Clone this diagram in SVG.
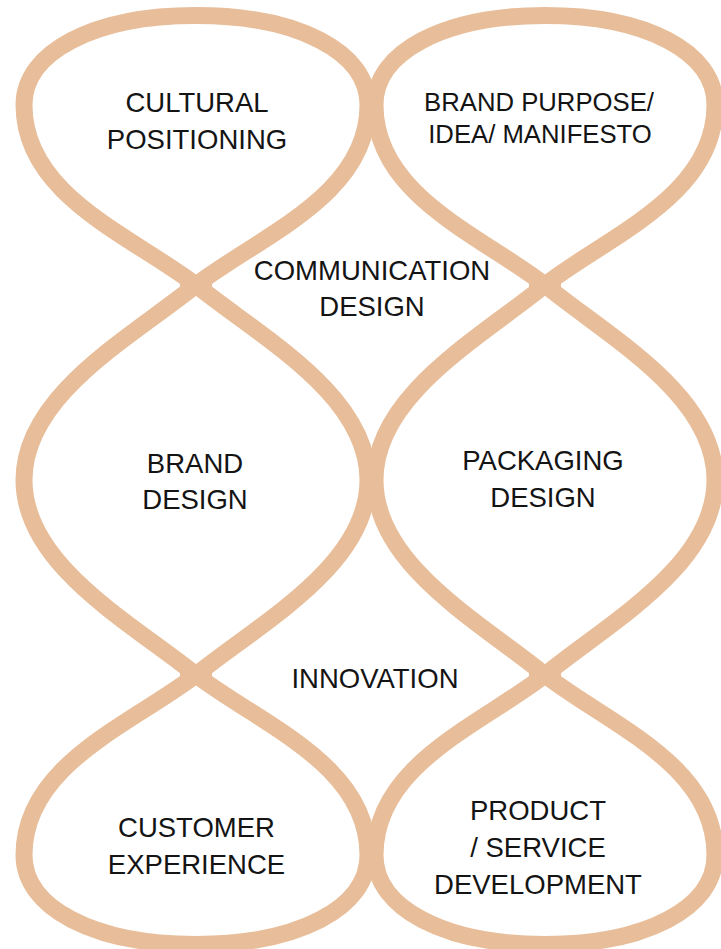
<svg xmlns="http://www.w3.org/2000/svg" width="721" height="949" viewBox="0 0 721 949">
  <style>
    .lobe { fill: none; stroke: #E8BE9A; stroke-width: 17; stroke-linejoin: round; }
    .knot { fill: #E8BE9A; }
    .lbl { font-family: "Liberation Sans", Arial, Helvetica, sans-serif; font-size: 27.5px; fill: #141414; text-anchor: middle; }
  </style>
  <rect x="0" y="0" width="721" height="949" fill="#ffffff"/>

  <g id="cultural-positioning">
    <path class="lobe" d="M196,15.5 C298,15.5 368,52 368,105 C368,195 262,235 196,285 C130,235 24,195 24,105 C24,52 94,15.5 196,15.5 Z"/>
    <text class="lbl" x="197" y="111.5">CULTURAL</text>
    <text class="lbl" x="197" y="148.5">POSITIONING</text>
  </g>

  <g id="brand-purpose">
    <path class="lobe" d="M545,15.5 C646,15.5 715,52 715,105 C715,195 610,235 545,285 C480,235 375,195 375,105 C375,52 444,15.5 545,15.5 Z"/>
    <text class="lbl" x="539" y="110.5" style="font-size:25.7px">BRAND PURPOSE/</text>
    <text class="lbl" x="540" y="142.5" style="font-size:25.7px">IDEA/ MANIFESTO</text>
  </g>

  <g id="brand-design">
    <path class="lobe" d="M196,285 C130,338 24,395 24,480 C24,565 130,622 196,675 C262,622 368,565 368,480 C368,395 262,338 196,285 Z"/>
    <text class="lbl" x="195" y="472.5">BRAND</text>
    <text class="lbl" x="195" y="508.5">DESIGN</text>
  </g>

  <g id="packaging-design">
    <path class="lobe" d="M545,285 C480,338 375,395 375,480 C375,565 480,622 545,675 C610,622 715,565 715,480 C715,395 610,338 545,285 Z"/>
    <text class="lbl" x="543" y="469.5">PACKAGING</text>
    <text class="lbl" x="543" y="506.5">DESIGN</text>
  </g>

  <g id="customer-experience">
    <path class="lobe" d="M196,675 C130,725 24,765 24,855 C24,908 94,944.5 196,944.5 C298,944.5 368,908 368,855 C368,765 262,725 196,675 Z"/>
    <text class="lbl" x="196.5" y="836.5">CUSTOMER</text>
    <text class="lbl" x="196.5" y="873.5">EXPERIENCE</text>
  </g>

  <g id="product-service-development">
    <path class="lobe" d="M545,675 C480,725 375,765 375,855 C375,908 444,944.5 545,944.5 C646,944.5 715,908 715,855 C715,765 610,725 545,675 Z"/>
    <text class="lbl" x="538" y="819.5">PRODUCT</text>
    <text class="lbl" x="538" y="856.5">/ SERVICE</text>
    <text class="lbl" x="538" y="893.5">DEVELOPMENT</text>
  </g>

  <g id="communication-design">
    <text class="lbl" x="372" y="279.5">COMMUNICATION</text>
    <text class="lbl" x="372" y="315.5">DESIGN</text>
  </g>

  <g id="innovation">
    <text class="lbl" x="375" y="687.5">INNOVATION</text>
  </g>

  <g id="connectors">
    <rect class="knot" x="180" y="279" width="32" height="13"/>
    <rect class="knot" x="180" y="669" width="32" height="13"/>
    <rect class="knot" x="529" y="279" width="32" height="13"/>
    <rect class="knot" x="529" y="669" width="32" height="13"/>
  </g>
</svg>
